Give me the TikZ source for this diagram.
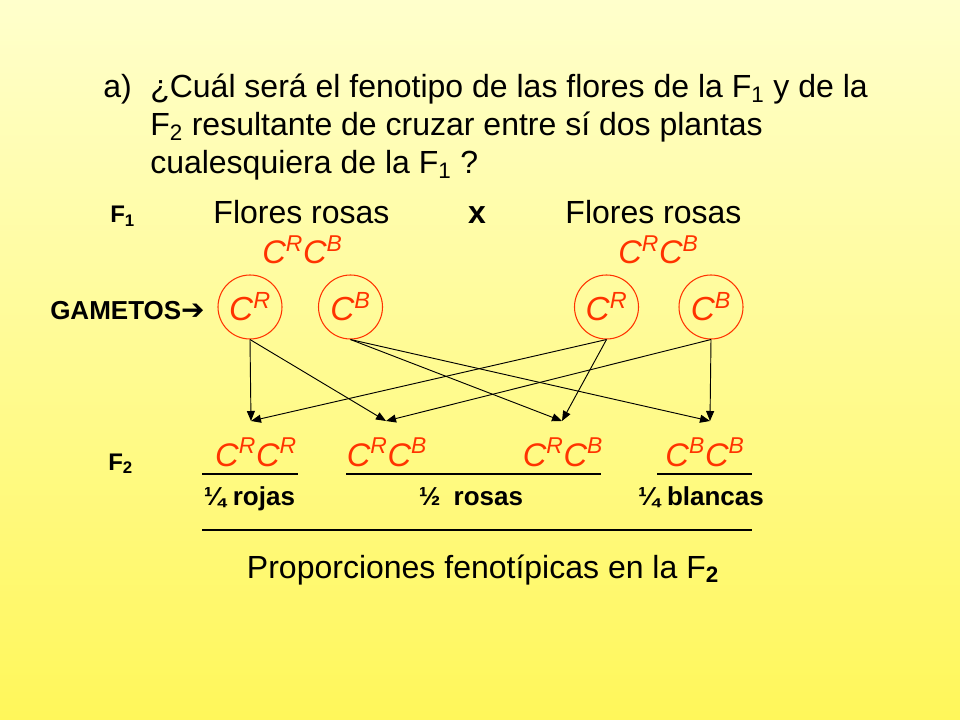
\documentclass[tikz,border=0pt]{standalone}
\usepackage{fontspec}
\setmainfont{Liberation Sans}
\newfontfamily\dejavu{DejaVu Sans}
\usetikzlibrary{arrows.meta}
\definecolor{gred}{RGB}{255,51,0}
\definecolor{bgtop}{RGB}{255,255,204}
\definecolor{bgbot}{RGB}{255,247,90}
\begin{document}
\begin{tikzpicture}[x=0.75pt,y=-0.75pt,
  title/.style={anchor=base west, inner sep=0pt, font=\fontsize{24}{28}\selectfont},
  lab/.style={anchor=base west, inner sep=0pt, font=\bfseries\fontsize{18}{21}\selectfont},
  big/.style={anchor=base, inner sep=0pt, font=\fontsize{24}{28}\selectfont},
  geno/.style={anchor=base, inner sep=0pt, text=gred, font=\itshape\fontsize{24.5}{28}\selectfont},
  gamete/.style={circle, draw=gred, line width=0.8pt, minimum size=48pt, inner sep=0pt, text=gred, font=\itshape\fontsize{25}{28}\selectfont},
  cross/.style={-{Triangle[length=7.5pt,width=6pt]}, line width=0.7pt},
  rulebar/.style={line width=2.2pt},
  fracl/.style={anchor=base, inner sep=0pt, font=\bfseries\fontsize{19.5}{22}\selectfont}]
\shade[top color=bgtop, bottom color=bgbot] (0,0) rectangle (960,720);
\useasboundingbox (0,0) rectangle (960,720);
% title
\node[title] (qa) at (103,98) {a)};
\node[title] (q1) at (150,98) {¿Cuál será el fenotipo de las flores de la F\textsubscript{1} y de la};
\node[title] (q2) at (150,136) {F\textsubscript{2} resultante de cruzar entre sí dos plantas};
\node[title] (q3) at (150,174) {cualesquiera\ de la F\textsubscript{1} ?};
% F1 row
\node[lab] (f1) at (110,223) {F\textsubscript{1}};
\node[big] (fl1) at (301.5,224) {Flores rosas};
\node[big, font=\bfseries\fontsize{24}{28}\selectfont] (xx) at (477,224) {x};
\node[big] (fl2) at (653.5,224) {Flores rosas};
\node[geno] (g1) at (302.5,264) {C\textsuperscript{R}C\textsuperscript{B}};
\node[geno] (g2) at (658.5,264) {C\textsuperscript{R}C\textsuperscript{B}};
% gametes
\node[lab, font=\bfseries\fontsize{19.5}{22}\selectfont] (gam) at (50,320) {GAMETOS{\dejavu\bfseries\fontsize{21}{22}\selectfont ➔}};
\node[gamete] (c1) at (250,307) {C\textsuperscript{R}};
\node[gamete] (c2) at (350.5,307) {C\textsuperscript{B}};
\node[gamete] (c3) at (606.5,307) {C\textsuperscript{R}};
\node[gamete] (c4) at (711,307) {C\textsuperscript{B}};
% targets
\coordinate (t1) at (251,421);
\coordinate (t2) at (386,421);
\coordinate (t3) at (562,421);
\coordinate (t4) at (710,421);
\draw[cross] (c1.south) -- (t1);
\draw[cross] (c1.south) -- (t2);
\draw[cross] (c2.south) -- (t3);
\draw[cross] (c2.south) -- (t4);
\draw[cross] (c3.south) -- (t1);
\draw[cross] (c3.south) -- (t3);
\draw[cross] (c4.south) -- (t2);
\draw[cross] (c4.south) -- (t4);
% F2 row
\node[lab] (f2) at (108,470) {F\textsubscript{2}};
\node[geno] (h1) at (256,466) {C\textsuperscript{R}C\textsuperscript{R}};
\node[geno] (h2) at (387,466) {C\textsuperscript{R}C\textsuperscript{B}};
\node[geno] (h3) at (563,466) {C\textsuperscript{R}C\textsuperscript{B}};
\node[geno] (h4) at (705,466) {C\textsuperscript{B}C\textsuperscript{B}};
\coordinate (u1a) at (202,474); \coordinate (u1b) at (298,474);
\coordinate (u2a) at (346,474); \coordinate (u2b) at (601,474);
\coordinate (u3a) at (657,474); \coordinate (u3b) at (752,474);
\draw[rulebar] (u1a) -- (u1b);
\draw[rulebar] (u2a) -- (u2b);
\draw[rulebar] (u3a) -- (u3b);
\node[fracl] (p1) at (249.5,505) {¼ rojas};
\node[fracl] (p2) at (471,505) {½\enspace rosas};
\node[fracl] (p3) at (701,505) {¼ blancas};
\coordinate (ba) at (202,530); \coordinate (bb) at (752,530);
\draw[rulebar] (ba) -- (bb);
\node[big] (prop) at (483,578) {Proporciones\ fenotípicas en la F\textsubscript{\bfseries 2}};
\end{tikzpicture}
\end{document}
